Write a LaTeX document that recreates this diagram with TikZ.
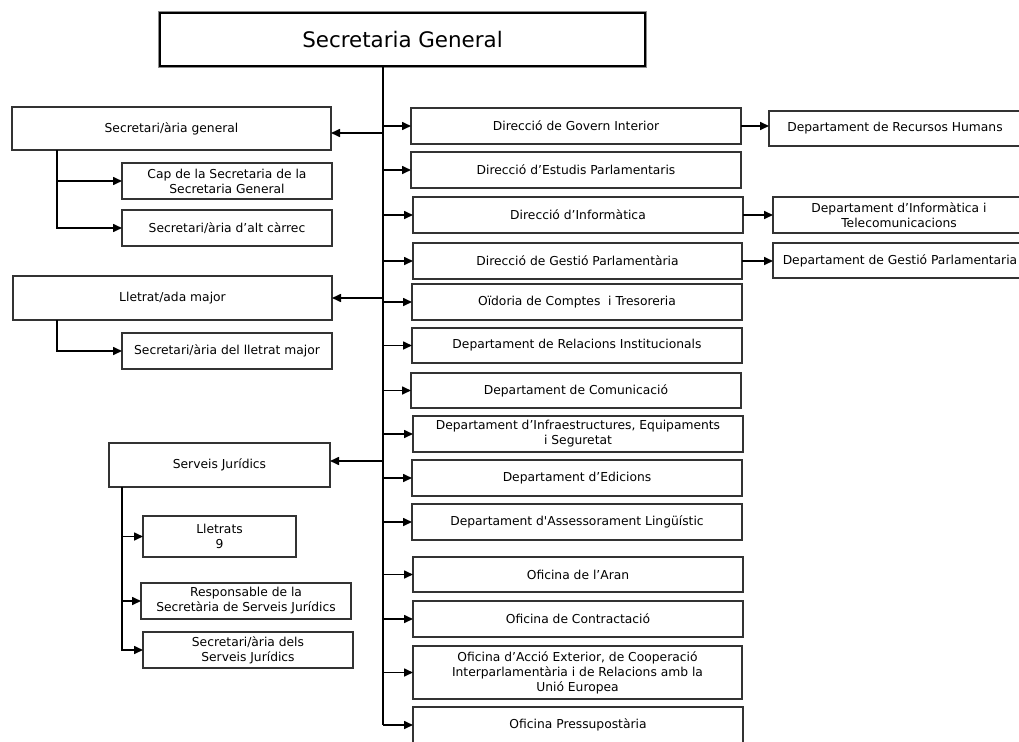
\documentclass[tikz,border=0pt]{standalone}
\usepackage{fontspec}
\setmainfont{DejaVu Sans}
\usepackage{tikz}
\usetikzlibrary{positioning,arrows.meta,calc}
\newcommand\orgfont{\fontsize{12.3}{15}\selectfont}
\newcommand\topfont{\fontsize{21.4}{25}\selectfont}
\tikzset{
  orgbox/.style={draw=black!80,line width=1.5pt,fill=white,inner sep=1pt,
    outer sep=0pt,align=center,font=\orgfont,anchor=north west},
  topbox/.style={orgbox,draw=black,line width=2pt,font=\topfont,
    preaction={draw=black!45,line width=4.5pt}},
  flow/.style={-{Triangle[length=9pt,width=8pt]},line width=1.6pt,black},
  link/.style={line width=1.6pt,black},
}

\begin{document}
\begin{tikzpicture}[x=1pt,y=-1pt]
  \useasboundingbox (0,0) rectangle (1019,741);
  \clip (0,0) rectangle (1019,741);
  \node[topbox,minimum width=485pt,minimum height=53pt] (sg) at (160,13) {Secretaria General};
  \coordinate (t) at (383,0);
  % left side
  \node[orgbox,minimum width=319pt,minimum height=43pt] (sec) at (12,107) {Secretari/ària general};
  \node[orgbox,minimum width=210pt,minimum height=36pt] (cap) at (122,163) {Cap de la Secretaria de la\\Secretaria General};
  \node[orgbox,minimum width=210pt,minimum height=36pt] (alt) at (122,210) {Secretari/ària d’alt càrrec};
  \node[orgbox,minimum width=319pt,minimum height=44pt] (lm) at (13,276) {Lletrat/ada major};
  \node[orgbox,minimum width=210pt,minimum height=36pt] (slm) at (122,333) {Secretari/ària del lletrat major};
  \node[orgbox,minimum width=221pt,minimum height=44pt] (sj) at (109,443) {Serveis Jurídics};
  \node[orgbox,minimum width=153pt,minimum height=41pt] (llt) at (143,516) {Lletrats\\9};
  \node[orgbox,minimum width=210pt,minimum height=36pt] (rsj) at (141,583) {Responsable de la\\Secretària de Serveis Jurídics};
  \node[orgbox,minimum width=210pt,minimum height=36pt] (ssj) at (143,632) {Secretari/ària dels\\ Serveis Jurídics};
  % right side
  \node[orgbox,minimum width=330pt,minimum height=36pt] (dgi) at (411,108) {Direcció de Govern Interior};
  \node[orgbox,minimum width=330pt,minimum height=36pt] (dep) at (411,152) {Direcció d’Estudis Parlamentaris};
  \node[orgbox,minimum width=330pt,minimum height=36pt] (din) at (413,197) {Direcció d’Informàtica};
  \node[orgbox,minimum width=329pt,minimum height=36pt] (dgp) at (413,243) {Direcció de Gestió Parlamentària};
  \node[orgbox,minimum width=330pt,minimum height=36pt] (oct) at (412,284) {Oïdoria de Comptes\ \ i Tresoreria};
  \node[orgbox,minimum width=330pt,minimum height=35pt] (dri) at (412,328) {Departament de Relacions Institucionals};
  \node[orgbox,minimum width=330pt,minimum height=35pt] (dco) at (411,373) {Departament de Comunicació};
  \node[orgbox,minimum width=330pt,minimum height=36pt] (dies) at (413,416) {Departament d’Infraestructures, Equipaments\\i Seguretat};
  \node[orgbox,minimum width=330pt,minimum height=36pt] (ded) at (412,460) {Departament d’Edicions};
  \node[orgbox,minimum width=330pt,minimum height=36pt] (dal) at (412,504) {Departament d\textquotesingle Assessorament Lingüístic};
  \node[orgbox,minimum width=330pt,minimum height=35pt] (oar) at (413,557) {Oficina de l’Aran};
  \node[orgbox,minimum width=330pt,minimum height=36pt] (oco) at (413,601) {Oficina de Contractació};
  \node[orgbox,minimum width=329pt,minimum height=53pt] (oae) at (413,646) {Oficina d’Acció Exterior, de Cooperació\\Interparlamentària i de Relacions amb la\\Unió Europea};
  \node[orgbox,minimum width=330pt,minimum height=36pt] (opr) at (413,707) {Oficina Pressupostària};
  \node[orgbox,minimum width=252pt,minimum height=35pt] (drh) at (769,111) {Departament de Recursos Humans};
  \node[orgbox,minimum width=252pt,minimum height=36pt] (dit) at (773,197) {Departament d’Informàtica i\\Telecomunicacions};
  \node[orgbox,minimum width=254pt,minimum height=35pt] (dgpa) at (773,243) {Departament de Gestió Parlamentaria};
  % connectors
  \draw[link] (sg.south -| t) -- (t |- opr.west);
  \coordinate (secin) at ([yshift=-4.5pt]sec.east);
  \coordinate (sjin) at ([yshift=4pt]sj.east);
  \draw[flow] (secin -| t) -- (secin);
  \draw[flow] (t |- lm.east) -- (lm.east);
  \draw[flow] (sjin -| t) -- (sjin);
  \foreach \n in {dgi,dep,din,dgp,oct,dri,dco,dies,ded,dal,oar,oco,oae,opr}
    \draw[flow] (t |- \n.west) -- (\n.west);
  \draw[flow] (dgi.east) -- (dgi.east -| drh.west);
  \draw[flow] (din.east) -- (din.east -| dit.west);
  \draw[flow] (dgp.east) -- (dgp.east -| dgpa.west);
  \draw[flow] ([xshift=45pt]sec.south west) |- (cap.west);
  \draw[flow] ([xshift=45pt]sec.south west) |- (alt.west);
  \draw[flow] ([xshift=44pt]lm.south west) |- (slm.west);
  \draw[flow] ([xshift=13pt]sj.south west) |- (llt.west);
  \draw[flow] ([xshift=13pt]sj.south west) |- (rsj.west);
  \draw[flow] ([xshift=13pt]sj.south west) |- (ssj.west);
\end{tikzpicture}
\end{document}
